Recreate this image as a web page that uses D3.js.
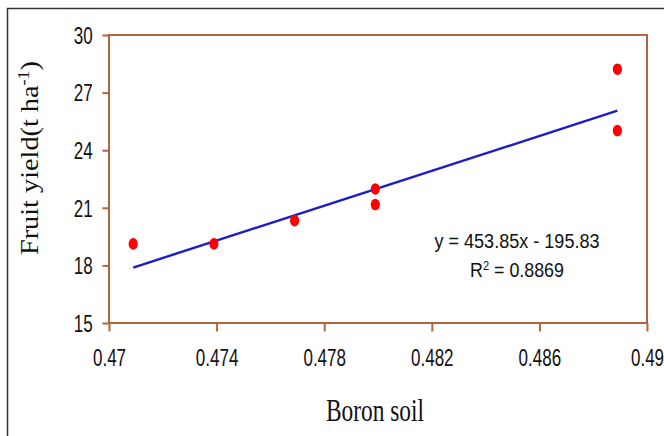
<!DOCTYPE html>
<html>
<head>
<meta charset="utf-8">
<script src="https://cdn.jsdelivr.net/npm/d3@7"></script>
<style>
  body { margin: 0; background: #fff; }
  svg { display: block; }
</style>
</head>
<body>
<svg width="664" height="436"></svg>
<script>
// data
const boronSoil = [0.4709, 0.4739, 0.4769, 0.4799, 0.4799, 0.4889, 0.4889]
const fruitYield = [19.12, 19.12, 20.33, 21.98, 21.17, 28.22, 25.02]
const xTicks = [0.47, 0.474, 0.478, 0.482, 0.486, 0.49]
const yTicks = [15, 18, 21, 24, 27, 30]
const slope = 453.85
const intercept = -195.83
const rSquared = 0.8869

const svg = d3.select('svg')
const width = +svg.attr('width')
const height = +svg.attr('height')
const margin = { top: 35, right: 17, bottom: 113, left: 109 }
const axisColor = '#b0653a'

// outer frame (left and top edges only visible)
svg.append('path')
  .attr('d', `M7.5,${height} V8.5 H${width}`)
  .attr('fill', 'none')
  .attr('stroke', '#333')
  .attr('stroke-width', 1.5)

const x = d3.scaleLinear()
  .domain([0.47, 0.49])
  .range([margin.left, width - margin.right])

const y = d3.scaleLinear()
  .domain([15, 30])
  .range([height - margin.bottom, margin.top])

// plot box
svg.append('rect')
  .attr('x', x(0.47))
  .attr('y', y(30))
  .attr('width', x(0.49) - x(0.47))
  .attr('height', y(15) - y(30))
  .attr('fill', 'none')
  .attr('stroke', axisColor)
  .attr('stroke-width', 2)

const xAxis = svg.append('g')
  .attr('transform', `translate(0,${y(15)})`)
  .call(d3.axisBottom(x).tickValues(xTicks).tickSize(8.5).tickPadding(18)
    .tickFormat(d => d3.format('')(+d.toFixed(3))))
xAxis.select('.domain').remove()
xAxis.selectAll('line').attr('stroke', axisColor).attr('stroke-width', 2)
xAxis.selectAll('text')
  .attr('fill', '#111')
  .style('font-family', '"Liberation Sans", Arial, sans-serif')
  .style('font-size', '23px')
  .attr('transform', 'scale(0.74,1)')

const yAxis = svg.append('g')
  .attr('transform', `translate(${x(0.47)},0)`)
  .call(d3.axisLeft(y).tickValues(yTicks).tickSize(6.6))
yAxis.select('.domain').remove()
yAxis.selectAll('line').attr('stroke', axisColor).attr('stroke-width', 2)
yAxis.selectAll('text')
  .attr('fill', '#111')
  .attr('x', -16.3 / 0.74)
  .attr('dy', '0.36em')
  .style('font-family', '"Liberation Sans", Arial, sans-serif')
  .style('font-size', '23px')
  .attr('transform', 'scale(0.74,1)')

// trend line from the fitted equation
const xMin = d3.min(boronSoil)
const xMax = d3.max(boronSoil)
svg.append('line')
  .attr('x1', x(xMin))
  .attr('y1', y(slope * xMin + intercept))
  .attr('x2', x(xMax))
  .attr('y2', y(slope * xMax + intercept))
  .attr('stroke', '#1c1cc8')
  .attr('stroke-width', 2.4)

svg.selectAll('.dot')
  .data(boronSoil.map((b, i) => ({ b, v: fruitYield[i] })))
  .enter()
  .append('ellipse')
  .attr('class', 'dot')
  .attr('cx', d => x(d.b))
  .attr('cy', d => y(d.v))
  .attr('rx', 4.6)
  .attr('ry', 5.8)
  .attr('fill', '#ff0000')

// equation
const eq = svg.append('g')
  .style('font-family', '"Liberation Sans", Arial, sans-serif')
  .style('font-size', '21px')
  .attr('fill', '#111')

eq.append('text')
  .attr('transform', 'translate(517,248) scale(0.86,1)')
  .attr('text-anchor', 'middle')
  .text(`y = ${slope}x - ${Math.abs(intercept)}`)

const r2 = eq.append('text')
  .attr('transform', 'translate(517,277) scale(0.85,1)')
  .attr('text-anchor', 'middle')
r2.append('tspan').text('R')
r2.append('tspan').attr('dy', -7).style('font-size', '13px').text('2')
r2.append('tspan').attr('dy', 7).text(` = ${rSquared}`)

// axis titles
svg.append('text')
  .attr('x', 375)
  .attr('y', 421)
  .attr('text-anchor', 'middle')
  .attr('textLength', 98)
  .attr('lengthAdjust', 'spacingAndGlyphs')
  .style('font-family', '"Liberation Serif", "Times New Roman", serif')
  .style('font-size', '31px')
  .attr('fill', '#111')
  .text('Boron soil')

const yTitle = svg.append('text')
  .attr('transform', 'translate(38,158) rotate(-90)')
  .attr('text-anchor', 'middle')
  .attr('textLength', 194)
  .attr('lengthAdjust', 'spacingAndGlyphs')
  .style('font-family', '"Liberation Serif", "Times New Roman", serif')
  .style('font-size', '25px')
  .attr('fill', '#111')
yTitle.append('tspan').text('Fruit yield(t ha')
yTitle.append('tspan').attr('dy', -9).style('font-size', '16px').text('-1')
yTitle.append('tspan').attr('dy', 9).text(')')
</script>
</body>
</html>
